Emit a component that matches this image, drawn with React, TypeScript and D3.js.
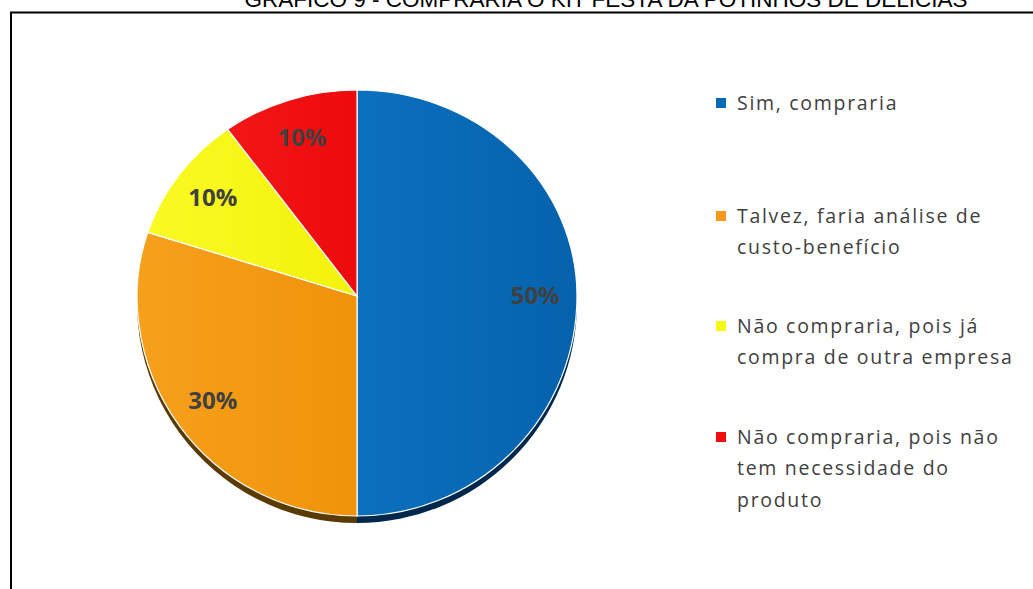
import React from "react";
import * as d3 from "d3";

const title = "GRÁFICO 9 - COMPRARIA O KIT FESTA DA POTINHOS DE DELÍCIAS";
const categories = [
  "Sim, compraria",
  "Talvez, faria análise de custo-benefício",
  "Não compraria, pois já compra de outra empresa",
  "Não compraria, pois não tem necessidade do produto",
];
const legendLines = [
  ["Sim, compraria"],
  ["Talvez, faria análise de", "custo-benefício"],
  ["Não compraria, pois já", "compra de outra empresa"],
  ["Não compraria, pois não", "tem necessidade do", "produto"],
];
const values = [50, 30, 10, 10];
const colors = ["#0869b6", "#f4991a", "#f7f714", "#f00c10"];
const lightColors = ["#0b70bd", "#f6a01c", "#fafa24", "#f41616"];
const darkColors = ["#0562ad", "#f09309", "#f2f20a", "#ec0a0c"];
const shadowColors = ["#00284c", "#5a3b03", "#5a5a00", "#5a0000"];

export default function App() {
  const W = 1033;
  const H = 589;
  const cx = 357;
  const cy = 296;
  const rx = 220;
  const ryTop = 206;
  const ryBot = 220;
  const pie = d3.pie<number>().sort(null).value((d) => d)(values);
  const arc = d3.arc<d3.PieArcDatum<number>>().innerRadius(0).outerRadius(1);
  const labelArc = d3
    .arc<d3.PieArcDatum<number>>()
    .innerRadius(0.81)
    .outerRadius(0.81);
  const total = d3.sum(values);
  const fmt = d3.format(".0%");

  const legendY = [103, 216, 326, 437];
  const lineH = 31.5;

  const halves = [
    { id: "top", ry: ryTop },
    { id: "bot", ry: ryBot },
  ];

  return (
    <svg
      width={W}
      height={H}
      style={{ position: "absolute", left: 0, top: 0, background: "#fff" }}
    >
      <defs>
        {colors.map((c, i) => (
          <linearGradient key={i} id={`g${i}`} x1="0" y1="0" x2="1" y2="0">
            <stop offset="0" stopColor={lightColors[i]} />
            <stop offset="1" stopColor={darkColors[i]} />
          </linearGradient>
        ))}
        <clipPath id="clip-top">
          <rect x={0} y={0} width={W} height={cy} />
        </clipPath>
        <clipPath id="clip-bot">
          <rect x={0} y={cy} width={W} height={H - cy} />
        </clipPath>
      </defs>
      <rect x={11} y={12.5} width={1100} height={700} fill="none" stroke="#000" strokeWidth={2} />
      <text
        x={606}
        y={7}
        textAnchor="middle"
        fontFamily="Liberation Sans, Arial, sans-serif"
        fontSize={22.5}
        fill="#000"
      >
        {title}
      </text>
      {/* shadow */}
      <g clipPath="url(#clip-bot)">
        <g transform={`translate(${cx},${cy + 7}) scale(${rx},${ryBot})`}>
          {pie.map((p, i) => (
            <path key={i} d={arc(p) as string} fill={shadowColors[i]} />
          ))}
        </g>
      </g>
      {halves.map((h) => (
        <g key={h.id} clipPath={`url(#clip-${h.id})`}>
          <g transform={`translate(${cx},${cy}) scale(${rx},${h.ry})`}>
            {pie.map((p, i) => (
              <path
                key={i}
                d={arc(p) as string}
                fill={`url(#g${i})`}
                stroke="#fff"
                strokeWidth={1.2}
                vectorEffect="non-scaling-stroke"
              />
            ))}
          </g>
        </g>
      ))}
      {pie.map((p, i) => {
        const [lx, ly] = labelArc.centroid(p);
        const ry = ly < 0 ? ryTop : ryBot;
        return (
          <text
            key={i}
            x={cx + lx * rx}
            y={cy + ly * ry}
            dy="0.35em"
            textAnchor="middle"
            fontFamily="Open Sans, sans-serif"
            fontWeight="bold"
            fontSize={24}
            fill="#404040"
          >
            {fmt(p.value / total)}
          </text>
        );
      })}
      {categories.map((c, i) => (
        <g key={c}>
          <rect x={716} y={legendY[i] - 5} width={10} height={10} fill={colors[i]} />
          {legendLines[i].map((l, j) => (
            <text
              key={j}
              x={737}
              y={legendY[i] + j * lineH}
              dy="0.35em"
              fontFamily="Open Sans, sans-serif"
              fontSize={19.5}
              letterSpacing={1.7}
              fill="#404040"
            >
              {l}
            </text>
          ))}
        </g>
      ))}
    </svg>
  );
}
